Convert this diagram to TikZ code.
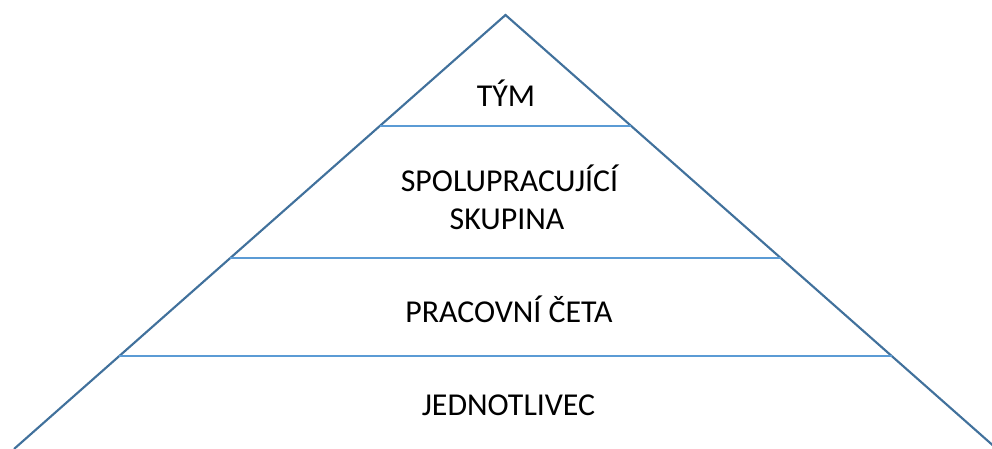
\documentclass[tikz,border=0pt]{standalone}
\usepackage{fontspec}
\setmainfont{Carlito}
\usetikzlibrary{calc}
\definecolor{triblue}{HTML}{41719C}
\definecolor{lineblue}{HTML}{5B9BD5}
\begin{document}
\begin{tikzpicture}[x=0.75pt,y=-0.75pt,
  side/.style={draw=triblue,line width=1.6pt,line join=miter},
  level/.style={draw=lineblue,line width=0.9pt},
  lbl/.style={anchor=base,inner sep=0pt,font=\fontsize{23.9pt}{29pt}\selectfont,text=black}]
\useasboundingbox (0,0) rectangle (992,449);
\clip (0,0) rectangle (992,449);
\coordinate (apex) at (505.5,15);
\coordinate (bl) at (14,449);
\coordinate (br) at (997,449);
\draw[side] (bl) -- (apex) -- (br);
\coordinate (l1) at ($(apex)!0.2558!(bl)$);
\coordinate (r1) at ($(apex)!0.2558!(br)$);
\coordinate (l2) at ($(apex)!0.5599!(bl)$);
\coordinate (r2) at ($(apex)!0.5599!(br)$);
\coordinate (l3) at ($(apex)!0.7857!(bl)$);
\coordinate (r3) at ($(apex)!0.7857!(br)$);
\draw[level] (l1) -- (r1);
\draw[level] (l2) -- (r2);
\draw[level] (l3) -- (r3);
\node[lbl] (tym) at (506,107) {TÝM};
\node[lbl] (spol) at (509.5,191) {SPOLUPRACUJÍCÍ};
\node[lbl] (skup) at (507,229) {SKUPINA};
\node[lbl] (ceta) at (509,322) {PRACOVNÍ ČETA};
\node[lbl] (jedn) at (508.5,415) {JEDNOTLIVEC};
\end{tikzpicture}
\end{document}
